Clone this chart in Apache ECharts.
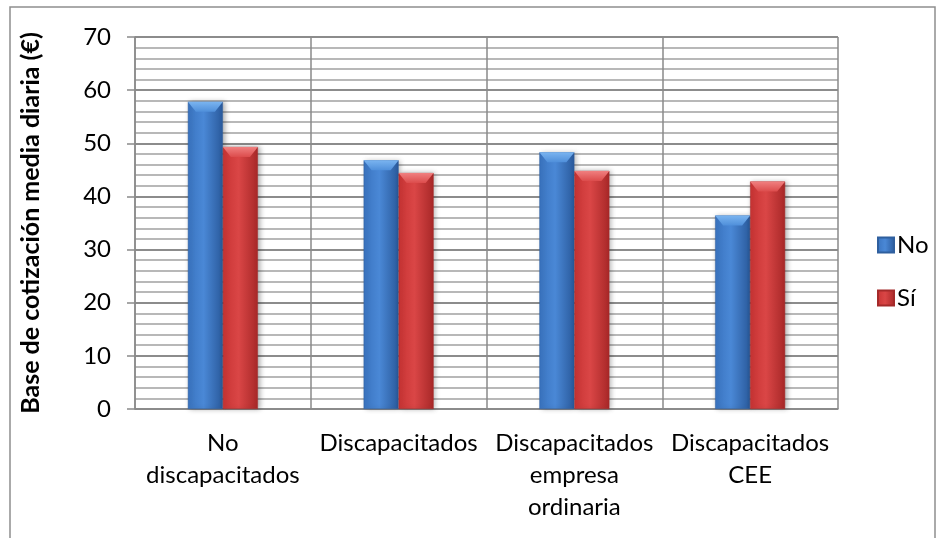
<!DOCTYPE html>
<html>
<head>
<meta charset="utf-8">
<script src="https://cdn.jsdelivr.net/npm/echarts@6/dist/echarts.min.js"></script>
<style>
  html, body { margin: 0; padding: 0; background: #fff; }
  #chart { width: 943px; height: 538px; }
</style>
</head>
<body>
<div id="chart"></div>
<script>
// Categories and daily contribution base values (€)
var categories = ['No\ndiscapacitados', 'Discapacitados', 'Discapacitados\nempresa\nordinaria', 'Discapacitados\nCEE'];
var seriesNames = ['No', 'Sí'];
var valuesNo = [57.8, 46.8, 48.3, 36.4];
var valuesSi = [49.3, 44.4, 44.8, 42.8];
var yTicks = [0, 10, 20, 30, 40, 50, 60, 70];

var FONT = 'Lato, "Open Sans", sans-serif';
var BAR_W = 35;

function barGradient(left, mid, right) {
  return new echarts.graphic.LinearGradient(0, 0, 1, 0, [
    { offset: 0, color: left },
    { offset: 0.45, color: mid },
    { offset: 1, color: right }
  ]);
}

// Bevelled top face drawn over each bar, positioned from the bar's own value
function bevel(values, side, light, dark) {
  return {
    type: 'custom',
    silent: true,
    z: 3,
    data: values.map(function (v, i) { return [i, v]; }),
    renderItem: function (params, api) {
      var p = api.coord([api.value(0), api.value(1)]);
      var x0 = side < 0 ? p[0] - BAR_W : p[0];
      var x1 = x0 + BAR_W;
      var y = p[1];
      var d = 10, inset = 8;
      return {
        type: 'polygon',
        shape: { points: [[x0, y], [x1, y], [x1 - inset, y + d], [x0 + inset, y + d]] },
        style: {
          fill: new echarts.graphic.LinearGradient(0, 0, 0, 1, [
            { offset: 0, color: light },
            { offset: 1, color: dark }
          ])
        }
      };
    }
  };
}

var chart = echarts.init(document.getElementById('chart'), null, { renderer: 'canvas' });

chart.setOption({
  backgroundColor: '#ffffff',
  animation: false,
  graphic: [{
    type: 'rect',
    shape: { x: 10, y: 7, width: 925, height: 600 },
    style: { fill: 'none', stroke: '#8e8e8e', lineWidth: 1.5 },
    silent: true
  }],
  grid: { left: 135, right: 105, top: 37, bottom: 129 },
  legend: {
    orient: 'vertical',
    left: 877,
    top: 233,
    padding: 0,
    itemWidth: 16,
    itemHeight: 15,
    itemGap: 29,
    icon: 'rect',
    data: seriesNames,
    textStyle: { fontFamily: FONT, fontSize: 24, lineHeight: 24, color: '#000', padding: [0, 0, 0, -2] }
  },
  xAxis: {
    type: 'category',
    data: categories,
    axisLine: { show: true, lineStyle: { color: '#8a8a8a', width: 1.5 } },
    axisTick: { show: false },
    splitLine: { show: true, lineStyle: { color: '#8a8a8a', width: 1.5 } },
    axisLabel: {
      interval: 0,
      margin: 18,
      fontFamily: FONT,
      fontSize: 24,
      lineHeight: 32,
      color: '#000'
    }
  },
  yAxis: {
    type: 'value',
    min: yTicks[0],
    max: yTicks[yTicks.length - 1],
    interval: 10,
    name: 'Base de cotización media diaria (€)',
    nameLocation: 'middle',
    nameGap: 92,
    nameTextStyle: { fontFamily: FONT, fontSize: 25, fontWeight: 'bold', color: '#000' },
    axisLine: { show: true, lineStyle: { color: '#8a8a8a', width: 1.5 } },
    axisTick: { show: true, length: 8, lineStyle: { color: '#8a8a8a', width: 1.5 } },
    axisLabel: { margin: 24, fontFamily: FONT, fontSize: 24, color: '#000' },
    splitLine: { show: true, lineStyle: { color: '#8c8c8c', width: 2 } },
    minorTick: { show: false, splitNumber: 5 },
    minorSplitLine: { show: true, lineStyle: { color: '#b8b8b8', width: 2 } }
  },
  series: [
    {
      name: seriesNames[0],
      type: 'bar',
      data: valuesNo,
      barWidth: BAR_W,
      barGap: '0%',
      itemStyle: {
        color: barGradient('#3a74c0', '#4a88d6', '#2a5a9c'),
        borderColor: '#2f5f9e',
        borderWidth: 0.5,
        shadowColor: 'rgba(0,0,0,0.3)',
        shadowBlur: 5,
        shadowOffsetX: 2
      }
    },
    {
      name: seriesNames[1],
      type: 'bar',
      data: valuesSi,
      barWidth: BAR_W,
      barGap: '0%',
      itemStyle: {
        color: barGradient('#c83434', '#da4646', '#a82828'),
        borderColor: '#a42a2a',
        borderWidth: 0.5,
        shadowColor: 'rgba(0,0,0,0.3)',
        shadowBlur: 5,
        shadowOffsetX: 2
      }
    },
    bevel(valuesNo, -1, '#7ab4f0', '#4f8fda'),
    bevel(valuesSi, 1, '#f08080', '#dc4c4c')
  ]
});
</script>
</body>
</html>
